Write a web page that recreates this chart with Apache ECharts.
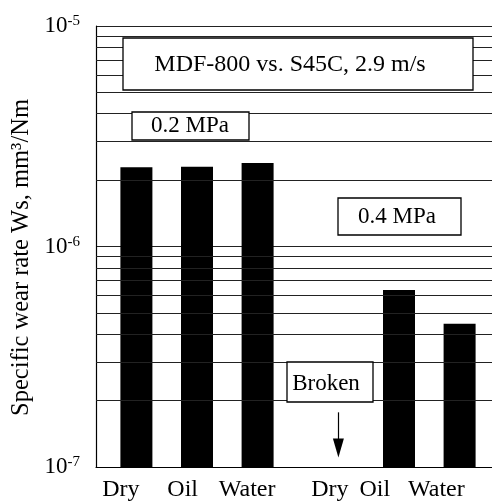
<!DOCTYPE html>
<html>
<head>
<meta charset="utf-8">
<script src="https://cdn.jsdelivr.net/npm/echarts@6/dist/echarts.min.js"></script>
<style>
html,body{margin:0;padding:0;background:#fff;}
#chart{width:492px;height:503px;}
</style>
</head>
<body>
<div id="chart"></div>
<script>
// ---- data ----
const categories = ['Dry', 'Oil', 'Water', 'Dry', 'Oil', 'Water'];
const groups = ['0.2 MPa', '0.4 MPa'];
const wearRate = [2.29e-6, 2.30e-6, 2.39e-6, null, 6.35e-7, 4.46e-7]; // mm^3/Nm, Dry @0.4 MPa broken
const yTickValues = [1e-7, 1e-6, 1e-5];
const yTickExponents = ['-7', '-6', '-5'];
const titleText = 'MDF-800 vs. S45C, 2.9 m/s';
const brokenText = 'Broken';
const yAxisTitle = 'Specific wear rate Ws, mm\u00B3/Nm';

// ---- layout ----
const FONT = '"Liberation Serif", "DejaVu Serif", serif';
const UNIT = 1e-7;                 // plot values in units of 1e-7 to keep bars based at the axis bottom
const slotPos = categories.map((c, i) => 2 + i * 3 + (i >= 3 ? 1 : 0));
const labelPos = [1.23, 4.29, 7.48, 11.58, 13.8, 16.85];

const barData = [];
wearRate.forEach((v, i) => { if (v != null) barData.push([slotPos[i], v / UNIT]); });

const minorVals = [];
[1, 10].forEach(d => { for (let k = 2; k <= 9; k++) minorVals.push(k * d); });

const chart = echarts.init(document.getElementById('chart'), null, {renderer: 'canvas'});

function box(x, y, w, h, text, tx, ty, fs) {
  return [
    {type: 'rect', z: 100, shape: {x: x, y: y, width: w, height: h},
     style: {fill: '#fff', stroke: '#000', lineWidth: 1.3}},
    {type: 'text', z: 101, x: tx, y: ty,
     style: {text: text, font: fs + 'px ' + FONT, fill: '#000', textAlign: 'center', textVerticalAlign: 'middle', align: 'center', verticalAlign: 'middle'}}
  ];
}

const option = {
  animation: false,
  backgroundColor: '#fff',
  grid: {left: 96, right: -8, top: 26, bottom: 36, containLabel: false, outerBoundsMode: 'none'},
  xAxis: {
    type: 'value', min: 0, max: 20,
    axisLine: {show: true, onZero: false, lineStyle: {color: '#000', width: 1.2}},
    axisTick: {show: false},
    splitLine: {show: false},
    axisLabel: {
      customValues: labelPos,
      formatter: function (v) { const i = labelPos.indexOf(v); return i >= 0 ? categories[i] : ''; },
      fontFamily: FONT, fontSize: 24, color: '#000', margin: 11
    }
  },
  yAxis: {
    type: 'log', logBase: 10,
    min: yTickValues[0] / UNIT, max: yTickValues[2] / UNIT,
    axisLine: {show: true, lineStyle: {color: '#000', width: 1.2}},
    axisTick: {show: false},
    splitLine: {show: true, lineStyle: {color: '#222', width: 1}},
    axisLabel: {
      margin: 16,
      formatter: function (v) {
        let idx = 0;
        yTickValues.forEach((t, i) => { if (Math.abs(Math.log10(t / UNIT) - Math.log10(v)) < 1e-6) idx = i; });
        return '{b|10}{s|' + yTickExponents[idx] + '}';
      },
      rich: {
        b: {fontFamily: FONT, fontSize: 23, color: '#000', lineHeight: 24},
        s: {fontFamily: FONT, fontSize: 15, color: '#000', verticalAlign: 'top', lineHeight: 15}
      }
    },
    name: yAxisTitle,
    nameLocation: 'middle',
    nameGap: 58,
    nameTextStyle: {fontFamily: FONT, fontSize: 24.5, color: '#000', padding: [0, 22, 0, 0]}
  },
  series: [
    {
      type: 'line', data: [], z: 1, silent: true,
      markLine: {
        silent: true, symbol: ['none', 'none'], label: {show: false},
        lineStyle: {type: 'solid', color: '#222', width: 1},
        data: minorVals.map(v => ({yAxis: v}))
      }
    },
    {
      type: 'bar', z: 3, data: barData, barWidth: 32,
      itemStyle: {color: '#000'}
    },
    {
      type: 'line', data: [], z: 4, silent: true,
      markLine: {
        silent: true, symbol: ['none', 'triangle'], symbolSize: [11, 19],
        label: {show: false},
        lineStyle: {type: 'solid', color: '#000', width: 1.2},
        data: [[{coord: [slotPos[3], 1.77]}, {coord: [slotPos[3], 1.22]}]]
      }
    }
  ],
  graphic: {
    elements: [].concat(
      box(123, 38, 350, 52, titleText, 290, 65, 24),
      box(132, 112, 117, 28, groups[0], 190, 126, 23),
      box(338, 198, 123, 37, groups[1], 397, 217, 23),
      box(287, 362, 86, 40, brokenText, 326, 384, 23)
    )
  }
};
chart.setOption(option);
</script>
</body>
</html>
